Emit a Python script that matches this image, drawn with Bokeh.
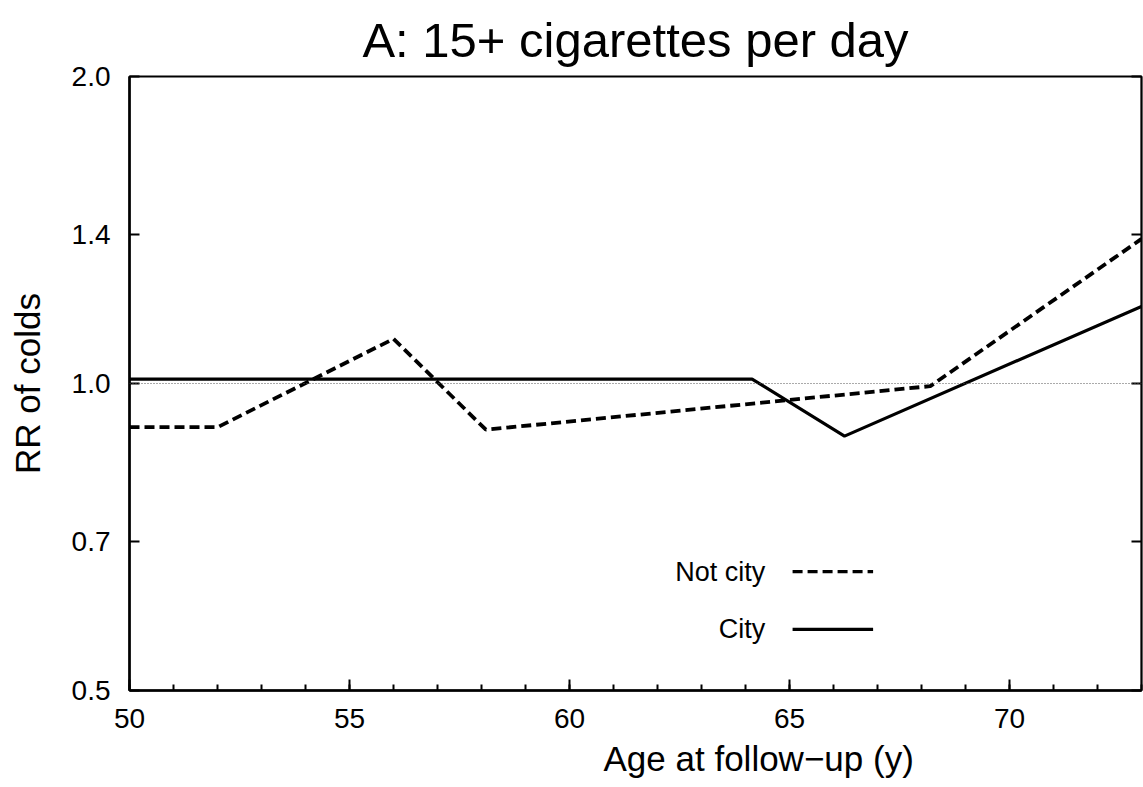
from bokeh.plotting import figure
from bokeh.models import (Range1d, FixedTicker, LogAxis, CustomJSTickFormatter,
                          Title, Label, Span)
from bokeh.embed import file_html
from bokeh.resources import INLINE

# ---- data ----
ages_not_city = [50, 52, 56, 58.1, 68.2, 73]
rr_not_city = [0.906, 0.906, 1.106, 0.901, 0.994, 1.386]
ages_city = [50, 64.15, 66.25, 73]
rr_city = [1.01, 1.01, 0.888, 1.19]
y_ticks = [0.5, 0.7, 1.0, 1.4, 2.0]
x_ticks = [50, 55, 60, 65, 70]
x_minor = list(range(50, 74))
legend_labels = ["Not city", "City"]

FONT = "Liberation Sans"

p = figure(width=1143, height=787, output_backend="svg", toolbar_location=None,
           x_range=Range1d(50, 73), y_range=Range1d(0.5, 2.0), y_axis_type="log",
           min_border_left=129, min_border_right=2, min_border_top=74,
           min_border_bottom=97)
p.background_fill_color = "white"
p.border_fill_color = "white"
p.outline_line_color = "black"
p.outline_line_width = 2
p.xgrid.visible = False
p.ygrid.visible = False

p.title.text = "A: 15+ cigarettes per day"
p.title.align = "center"
p.title.text_font = FONT
p.title.text_font_size = "49px"
p.title.text_font_style = "normal"
p.title.text_color = "black"
p.title.standoff = 20

# reference line at RR = 1
p.add_layout(Span(location=1.0, dimension="width", line_color="#555555",
                  line_width=1, line_dash="1 2"))

p.line(ages_not_city, rr_not_city, line_color="black", line_width=3.8,
       line_dash="10 5")
p.line(ages_city, rr_city, line_color="black", line_width=3.2)

# left axis
ya = p.yaxis[0]
ya.ticker = FixedTicker(ticks=y_ticks, minor_ticks=[])
ya.formatter = CustomJSTickFormatter(code="return tick.toFixed(1);")
ya.axis_line_width = 2.5
ya.major_tick_in = 10
ya.major_tick_out = 0
ya.major_tick_line_width = 2
ya.minor_tick_in = 0
ya.minor_tick_out = 0
ya.major_label_standoff = 19
ya.major_label_text_font = FONT
ya.major_label_text_font_size = "28px"
ya.major_label_text_color = "black"
ya.axis_label = "RR of colds"
ya.axis_label_text_font = FONT
ya.axis_label_text_font_size = "35px"
ya.axis_label_text_font_style = "normal"
ya.axis_label_text_color = "black"
ya.axis_label_standoff = 22

# bottom axis
xa = p.xaxis[0]
xa.ticker = FixedTicker(ticks=x_ticks, minor_ticks=x_minor)
xa.axis_line_width = 2.5
xa.major_tick_in = 11
xa.major_tick_out = 0
xa.major_tick_line_width = 2
xa.minor_tick_in = 6
xa.minor_tick_out = 0
xa.minor_tick_line_width = 2
xa.major_label_standoff = 18
xa.major_label_text_font = FONT
xa.major_label_text_font_size = "28px"
xa.major_label_text_color = "black"

# right axis: ticks only
ra = LogAxis(ticker=FixedTicker(ticks=y_ticks, minor_ticks=[]),
             formatter=CustomJSTickFormatter(code="return '';"),
             axis_line_width=1.5, major_tick_in=10, major_tick_out=0,
             major_tick_line_width=2, minor_tick_in=0, minor_tick_out=0,
             major_label_standoff=0, major_label_text_font_size="1px")
p.add_layout(ra, "right")

# x axis label, offset to the right as in the reference
p.add_layout(Title(text="Age at follow\u2212up (y)", align="left", offset=474,
                   text_font=FONT, text_font_size="35px", text_font_style="normal",
                   text_color="black", standoff=12), "below")

# legend (text to the left of the line sample)
leg_y = [0.654, 0.574]
leg_dash = ["10 5", "solid"]
for lab, yy, dash in zip(legend_labels, leg_y, leg_dash):
    p.add_layout(Label(x=64.45, y=yy, text=lab, text_align="right",
                       text_baseline="middle", text_font=FONT,
                       text_font_size="27px", text_color="black"))
    p.segment(x0=[65.07], x1=[66.9], y0=[yy], y1=[yy], line_color="black",
              line_width=3.2, line_dash=dash)

open("out.html", "w").write(file_html(p, INLINE))
